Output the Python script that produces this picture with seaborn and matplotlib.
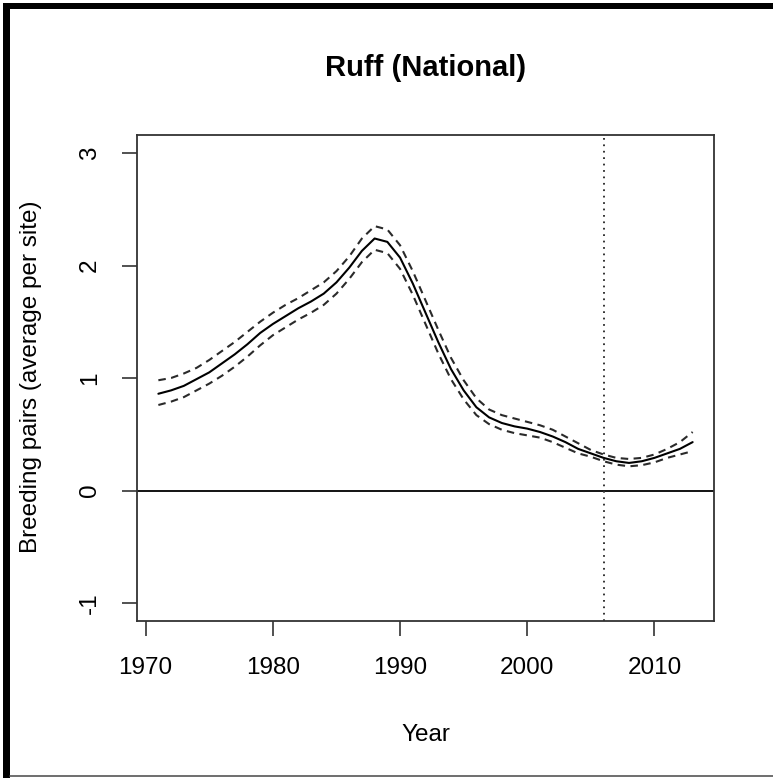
import matplotlib
matplotlib.use("Agg")
import matplotlib.pyplot as plt
from matplotlib.patches import Rectangle
from matplotlib.lines import Line2D
import seaborn as sns
import pandas as pd

years = list(range(1971, 2014))
estimate = [0.86, 0.89, 0.93, 0.99, 1.05, 1.13, 1.21, 1.30, 1.40, 1.48,
            1.55, 1.62, 1.68, 1.75, 1.85, 1.98, 2.13, 2.24, 2.21, 2.07,
            1.84, 1.58, 1.32, 1.08, 0.89, 0.74, 0.65, 0.60, 0.57, 0.55,
            0.52, 0.48, 0.43, 0.37, 0.33, 0.29, 0.26, 0.245, 0.26, 0.29,
            0.33, 0.37, 0.43]
upper = [0.98, 1.00, 1.04, 1.09, 1.16, 1.24, 1.32, 1.41, 1.50, 1.58,
         1.65, 1.71, 1.78, 1.85, 1.95, 2.08, 2.24, 2.35, 2.32, 2.18,
         1.95, 1.69, 1.43, 1.18, 0.98, 0.82, 0.72, 0.67, 0.64, 0.61,
         0.58, 0.54, 0.48, 0.42, 0.36, 0.32, 0.29, 0.28, 0.29, 0.32,
         0.37, 0.43, 0.52]
lower = [0.76, 0.79, 0.83, 0.89, 0.95, 1.02, 1.10, 1.19, 1.29, 1.38,
         1.45, 1.52, 1.58, 1.65, 1.75, 1.88, 2.03, 2.14, 2.11, 1.97,
         1.74, 1.48, 1.22, 0.99, 0.81, 0.67, 0.59, 0.54, 0.51, 0.49,
         0.47, 0.43, 0.38, 0.33, 0.30, 0.26, 0.23, 0.215, 0.225, 0.25,
         0.29, 0.32, 0.35]
x_ticks = [1970, 1980, 1990, 2000, 2010]
y_ticks = [-1, 0, 1, 2, 3]
marker_year = 2006
title = "Ruff (National)"
x_label = "Year"
y_label = "Breeding pairs (average per site)"

df = pd.DataFrame({"year": years, "estimate": estimate,
                   "upper": upper, "lower": lower})

sns.set_style("white")
plt.rcParams["font.family"] = ["Liberation Sans", "DejaVu Sans"]
plt.rcParams["text.color"] = "black"

W, H = 773, 778
fig = plt.figure(figsize=(W / 100, H / 100), dpi=100)
ax = fig.add_axes([137 / W, 1 - 621 / H, (714 - 137) / W, (621 - 135) / H])

sns.lineplot(data=df, x="year", y="estimate", ax=ax, color="black", lw=1.5)
sns.lineplot(data=df, x="year", y="upper", ax=ax, color="#2a2a2a", lw=1.5)
sns.lineplot(data=df, x="year", y="lower", ax=ax, color="#2a2a2a", lw=1.5)
for ln in ax.lines[1:3]:
    ln.set_dashes((3.6, 2.6))

ax.axhline(0, color="black", lw=1.3)
ax.axvline(marker_year, color="#333333", lw=1.4, dashes=(0.9, 2.4))

ax.set_xlim(1969.32, 2014.68)
ax.set_ylim(-1.16, 3.16)
ax.set_xticks(x_ticks)
ax.set_yticks(y_ticks)
ax.set_xticklabels([str(t) for t in x_ticks])
ax.set_yticklabels([str(t) for t in y_ticks], rotation=90, va="center")
ax.tick_params(axis="both", which="major", length=11, width=1.2,
               color="#333333", labelsize=17.5, labelcolor="black",
               direction="out", bottom=True, left=True, pad=15)
ax.set_xlabel("")
ax.set_ylabel("")
for sp in ax.spines.values():
    sp.set_color("#333333")
    sp.set_linewidth(1.3)
ax.grid(False)

fig.text(426 / W, 1 - 76 / H, title, ha="center", va="baseline",
         fontsize=21, fontweight="bold", color="black")
fig.text(426 / W, 1 - 741 / H, x_label, ha="center", va="baseline",
         fontsize=17.5, color="black")
fig.text(31 / W, 1 - 377 / H, y_label, ha="center", va="center",
         rotation=90, fontsize=17.5, color="black")

# outer frame
fig.add_artist(Rectangle((3 / W, 1 - 9 / H), 1, 6 / H, transform=fig.transFigure,
                         facecolor="black", edgecolor="none"))
fig.add_artist(Rectangle((3 / W, 0), 7 / W, 1 - 3 / H, transform=fig.transFigure,
                         facecolor="black", edgecolor="none"))
fig.add_artist(Line2D([10 / W, 1], [1 - 775.5 / H, 1 - 775.5 / H],
                      transform=fig.transFigure, color="#555555", lw=1.2))

fig.savefig("out.png", dpi=100, facecolor="white")
